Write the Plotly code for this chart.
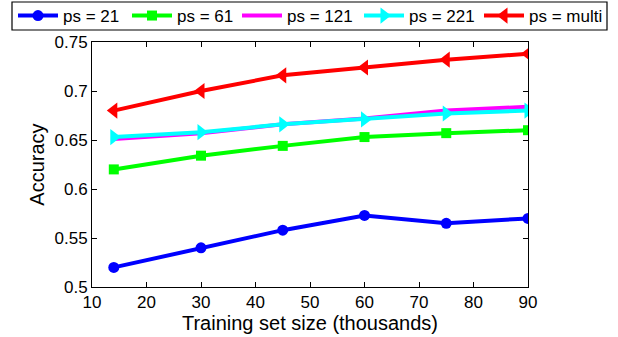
import plotly.graph_objects as go

x_vals = [14, 30, 45, 60, 75, 90]
ps21 = [0.520, 0.540, 0.558, 0.573, 0.565, 0.570]
ps61 = [0.620, 0.634, 0.644, 0.653, 0.657, 0.660]
ps121 = [0.651, 0.657, 0.666, 0.672, 0.680, 0.684]
ps221 = [0.653, 0.658, 0.666, 0.671, 0.677, 0.680]
psmulti = [0.680, 0.700, 0.716, 0.724, 0.732, 0.738]

series_names = ["ps = 21", "ps = 61", "ps = 121", "ps = 221", "ps = multi"]
series_vals = [ps21, ps61, ps121, ps221, psmulti]
series_colors = ["#0000FF", "#00FF00", "#FF00FF", "#00FFFF", "#FF0000"]
series_symbols = ["circle", "square", None, "triangle-right", "triangle-left"]
marker_sizes = [11, 10, 0, 14, 14]
legend_ids = ["legend", "legend", "legend", "legend2", "legend2"]
legend_widths = [59, 55, 65, 65, 78]

fig = go.Figure()
for name, vals, color, sym, msz, lid, lw in zip(series_names, series_vals, series_colors,
                                                 series_symbols, marker_sizes, legend_ids,
                                                 legend_widths):
    if sym is None:
        fig.add_trace(go.Scatter(x=x_vals, y=vals, name=name, mode="lines",
                                 line=dict(color=color, width=4),
                                 legend=lid, legendwidth=lw))
    else:
        fig.add_trace(go.Scatter(x=x_vals, y=vals, name=name, mode="lines+markers",
                                 line=dict(color=color, width=4),
                                 marker=dict(symbol=sym, size=msz, color=color),
                                 legend=lid, legendwidth=lw))

font = dict(family="Liberation Sans, Arial, sans-serif", size=17, color="black")
leg_common = dict(orientation="h", xref="container", yref="container",
                  xanchor="left", yanchor="middle", y=(337 - 16) / 337,
                  bgcolor="rgba(0,0,0,0)", borderwidth=0, font=font,
                  itemwidth=40, tracegroupgap=0)

fig.update_layout(
    width=618, height=337,
    margin=dict(l=92, r=90, t=42, b=50, autoexpand=False),
    paper_bgcolor="white", plot_bgcolor="white",
    font=font,
    showlegend=True,
    legend=dict(x=13 / 618, **leg_common),
    legend2=dict(x=359 / 618, **leg_common),
    shapes=[dict(type="rect", xref="paper", yref="paper",
                 x0=(12 - 92) / 436, x1=(607 - 92) / 436,
                 y0=(287 - 30) / 245, y1=(287 - 2) / 245,
                 line=dict(color="black", width=1.2), fillcolor="rgba(0,0,0,0)",
                 layer="above")],
    xaxis=dict(range=[10, 90], tickvals=[10, 20, 30, 40, 50, 60, 70, 80, 90],
               ticks="inside", ticklen=5, tickcolor="black", showline=True,
               linecolor="black", linewidth=1, mirror="ticks", showgrid=False,
               zeroline=False, title=dict(text="Training set size (thousands)", standoff=2),
               tickfont=font),
    yaxis=dict(range=[0.5, 0.75], tickvals=[0.5, 0.55, 0.6, 0.65, 0.7, 0.75],
               ticktext=["0.5", "0.55", "0.6", "0.65", "0.7", "0.75"],
               ticks="inside", ticklen=5, tickcolor="black", showline=True,
               linecolor="black", linewidth=1, mirror="ticks", showgrid=False,
               zeroline=False, title=dict(text="Accuracy", standoff=4),
               tickfont=font),
)
fig.write_html("out.html", config={"displayModeBar": False},
               post_script="document.body.style.margin='0';")
